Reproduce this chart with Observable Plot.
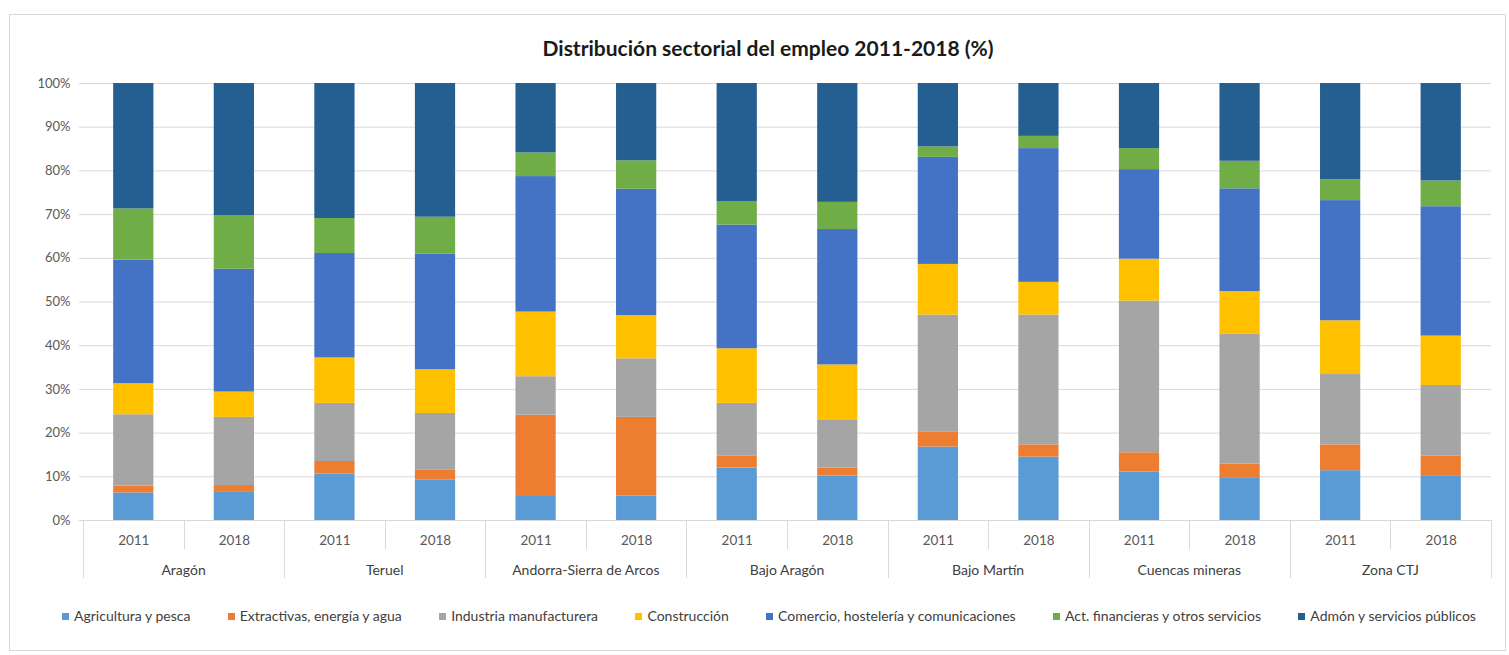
<!DOCTYPE html>
<html><head><meta charset="utf-8">
<script src="https://cdn.jsdelivr.net/npm/d3@7"></script>
<script src="https://cdn.jsdelivr.net/npm/@observablehq/plot@0.6"></script>
<style>
body{margin:0;background:#fff;font-family:Lato,"Open Sans",sans-serif;}
#frame{position:absolute;left:9px;top:14px;width:1497px;height:637px;border:1px solid #d9d9d9;box-sizing:border-box;}
#title{position:absolute;top:35px;left:0;width:1536px;text-align:center;font-weight:bold;font-size:21px;color:#1a1a1a;}
#chart{position:absolute;left:0;top:70px;}
#legend{position:absolute;top:607px;left:62px;width:1414px;display:flex;justify-content:space-between;font-size:14px;color:#404040;}
#legend span.sw{display:inline-block;width:7px;height:7px;margin-right:5px;vertical-align:1px;}
</style></head>
<body>
<div id="frame"></div>
<div id="title">Distribución sectorial del empleo 2011-2018 (%)</div>
<div id="chart"></div>
<div id="legend"></div>
<script>
const regions = ["Aragón","Teruel","Andorra-Sierra de Arcos","Bajo Aragón","Bajo Martín","Cuencas mineras","Zona CTJ"];
const years = ["2011","2018"];
const sectors = ["Agricultura y pesca","Extractivas, energía y agua","Industria manufacturera","Construcción","Comercio, hostelería y comunicaciones","Act. financieras y otros servicios","Admón y servicios públicos"];
const colors = ["#5b9bd5","#ed7d31","#a5a5a5","#ffc000","#4472c4","#70ad47","#255e91"];
// values in order: Aragón 2011, Aragón 2018, Teruel 2011, Teruel 2018, ...
const agricultura  = [6.3, 6.6, 10.6, 9.3, 5.5, 5.6, 12.0, 10.2, 16.8, 14.5, 11.1, 9.8, 11.4, 10.1];
const extractivas  = [1.6, 1.4, 2.9, 2.3, 18.6, 18.0, 2.8, 1.8, 3.5, 2.8, 4.4, 3.1, 5.9, 4.6];
const industria    = [16.3, 15.6, 13.3, 12.9, 8.8, 13.4, 12.0, 10.9, 26.7, 29.7, 34.7, 29.8, 16.1, 16.2];
const construccion = [7.1, 5.8, 10.4, 10.0, 14.8, 9.9, 12.5, 12.7, 11.6, 7.5, 9.6, 9.7, 12.3, 11.3];
const comercio     = [28.3, 28.1, 23.9, 26.5, 31.0, 28.9, 28.3, 31.0, 24.5, 30.6, 20.5, 23.5, 27.5, 29.6];
const financieras  = [11.7, 12.2, 8.0, 8.4, 5.4, 6.5, 5.4, 6.2, 2.4, 2.8, 4.8, 6.3, 4.8, 5.9];
const admon        = [28.7, 30.3, 30.9, 30.6, 15.9, 17.7, 27.0, 27.2, 14.5, 12.1, 14.9, 17.8, 22.0, 22.3];
const yTicks = [0,10,20,30,40,50,60,70,80,90,100];

const series = [agricultura, extractivas, industria, construccion, comercio, financieras, admon];
const keys = regions.flatMap(r => years.map(y => r + "|" + y));
const rows = [];
series.forEach((vals, s) => vals.forEach((v, i) => rows.push({key: keys[i], sector: sectors[s], value: v})));

const chart = Plot.plot({
  width: 1509, height: 510,
  marginTop: 13, marginBottom: 60, marginLeft: 83, marginRight: 18,
  style: {fontFamily: "Lato, 'Open Sans', sans-serif", fontSize: "13px", color: "#595959", background: "transparent"},
  x: {domain: keys, paddingInner: 0.6, paddingOuter: 0.3, round: false, axis: null, label: null},
  y: {domain: [0, 100], label: null},
  color: {domain: sectors, range: colors},
  marks: [
    Plot.ruleY(yTicks, {y: d => d, stroke: "#d9d9d9", strokeWidth: 1, strokeOpacity: 1, insetLeft: -4}),
    Plot.barY(rows, {x: "key", y: "value", fill: "sector", order: sectors}),
    Plot.axisY(yTicks, {tickSize: 0, tickPadding: 13, tickFormat: d => d + "%", fill: "#595959", fontSize: 13, label: null}),
    Plot.axisX(keys, {tickSize: 0, tickPadding: 15, tickFormat: d => d.split("|")[1], fill: "#595959", fontSize: 13.5, label: null})
  ]
});
document.getElementById("chart").appendChild(chart);

// second-level category labels and separators, positioned from the x scale
const sx = chart.scale("x"), sy = chart.scale("y");
const y0 = sy.apply(0);
const svg = d3.select(chart);
const g = svg.append("g").attr("stroke", "#d9d9d9").attr("stroke-width", 1);
const gap = (sx.step - sx.bandwidth) / 2;
keys.forEach((k, i) => {
  const bx = Math.round(sx.apply(k) - gap) + 0.5;
  g.append("line").attr("x1", bx).attr("x2", bx).attr("y1", y0).attr("y2", i % 2 === 0 ? y0 + 58 : y0 + 29);
});
const endX = Math.round(sx.apply(keys[keys.length - 1]) + sx.bandwidth + gap) + 0.5;
g.append("line").attr("x1", endX).attr("x2", endX).attr("y1", y0).attr("y2", y0 + 58);
const gt = svg.append("g").attr("font-size", 14).attr("fill", "#404040").attr("text-anchor", "middle");
regions.forEach(r => {
  const cx = sx.apply(r + "|2011") + sx.bandwidth / 2 + sx.step / 2;
  gt.append("text").attr("x", cx).attr("y", y0 + 55).text(r);
});

// legend
const lg = d3.select("#legend");
sectors.forEach((s, i) => {
  const it = lg.append("div");
  it.append("span").attr("class", "sw").style("background", colors[i]);
  it.append("span").text(s);
});
</script>
</body></html>
